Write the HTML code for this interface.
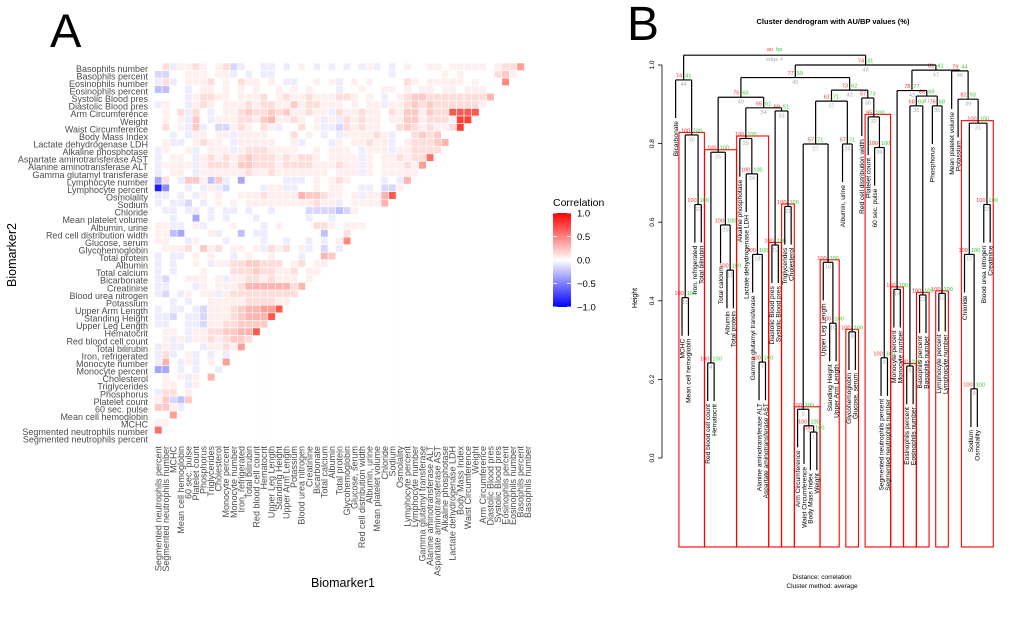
<!DOCTYPE html>
<html><head><meta charset="utf-8">
<style>
html,body{margin:0;padding:0;background:#fff;}
svg{display:block;font-family:"Liberation Sans",Arial,sans-serif;}
</style></head>
<body>
<svg id="fig" width="1020" height="628" viewBox="0 0 1020 628" xmlns="http://www.w3.org/2000/svg">
  <text x="50" y="47" font-size="47" fill="#000">A</text>
  <text x="627" y="40" font-size="48" fill="#000">B</text>
  <g id="heat"></g>
  <g id="hylab"></g>
  <g id="hxlab"></g>
  <text x="343" y="587" font-size="12.5" text-anchor="middle" fill="#000">Biomarker1</text>
  <text transform="translate(16,255) rotate(-90)" font-size="12.5" text-anchor="middle" fill="#000">Biomarker2</text>
  <g>
    <defs><linearGradient id="cg" x1="0" y1="0" x2="0" y2="1">
      <stop offset="0" stop-color="#ff0000"/><stop offset="0.5" stop-color="#ffffff"/><stop offset="1" stop-color="#0000ff"/>
    </linearGradient></defs>
    <text x="553" y="206" font-size="10.5" fill="#000">Correlation</text>
    <rect x="553" y="213" width="18" height="94" fill="url(#cg)"/>
    <g id="legticks"></g>
  </g>
  <text x="833" y="24" font-size="7.5" font-weight="bold" text-anchor="middle" fill="#000">Cluster dendrogram with AU/BP values (%)</text>
  <g id="dendro"></g>
  <text transform="translate(637,298) rotate(-90)" font-size="7" text-anchor="middle" fill="#000">Height</text>
  <text x="822" y="579" font-size="6.5" text-anchor="middle" fill="#000">Distance:  correlation</text>
  <text x="822" y="588" font-size="6.5" text-anchor="middle" fill="#000">Cluster method:  average</text>
</svg>
<script>
const NS = "http://www.w3.org/2000/svg";
// ---------- Heatmap data ----------
const yLabels = ["Basophils number","Basophils percent","Eosinophils number","Eosinophils percent","Systolic Blood pres","Diastolic Blood pres","Arm Circumference","Weight","Waist Circumference","Body Mass Index","Lactate dehydrogenase LDH","Alkaline phosphotase","Aspartate aminotransferase AST","Alanine aminotransferase ALT","Gamma glutamyl transferase","Lymphocyte number","Lymphocyte percent","Osmolality","Sodium","Chloride","Mean platelet volume","Albumin, urine","Red cell distribution width","Glucose, serum","Glycohemoglobin","Total protein","Albumin","Total calcium","Bicarbonate","Creatinine","Blood urea nitrogen","Potassium","Upper Arm Length","Standing Height","Upper Leg Length","Hematocrit","Red blood cell count","Total bilirubin","Iron, refrigerated","Monocyte number","Monocyte percent","Cholesterol","Triglycerides","Phosphorus","Platelet count","60 sec. pulse","Mean cell hemoglobin","MCHC","Segmented neutrophils number","Segmented neutrophils percent"];
// codes: '0'-'9' => 0..0.9, 'X' => 1, 'a'..'i' => -0.1..-0.9
const corrRows = [
"02a1121012 ba00aa0a01 0a0a0a0a1a 0a01001101 111101225",
"bb00111011 a0a0aa0000 0000000000 0a00000010 10000231",
"a2a0111201 0211010aa0 0101a01010 0002101111 1010006",
"cc00a01101 0101001010 1000a00100 1101011011 011100",
"0000a12211 0111201211 2111221010 a012332222 22224",
"a100a12101 1121221131 2211101011 a112323222 2221",
"0102a20a01 1232232311 211a211211 0213313228 888",
"0101a30a11 1221341121 01a1a21211 0113312221 99",
"0201a3a0bb 121021a002 01aab21211 0023212112 9",
"00a0a11011 a111100020 10a0a11112 1a00232300",
"01aa012110 a11111001a 000a101121 1a0122234",
"a1001a0111 a122211110 0101110a11 1a112222",
"a0110a1212 1232221212 2101111a10 1121227",
"a1111a1222 1332221222 2111211a10 111215",
"a0110a1111 1121121111 1110111a10 11111",
"d20a331c3a 0d00000aaa 0101210000 a0a4",
"ie00a0a1ab 0000a11aa0 0101100aa0 bb1",
"aa0a0a1010 0111211114 3321101a11 48",
"a0aab0a010 1011111111 1211a01111 4",
"0aa0aa0a0a a0a00a0000 bbbbcb1000",
"00a00d0a0a 000a000000 a00a00000",
"11aa01a000 1000a01000 02210111",
"11cd0001a0 0c0aa00000 00c0020",
"1100a1000a 0000a00a00 a0a016",
"0111203120 1101a21201 a0b0a",
"a0aa010100 a01001000a 0043",
"a0a0010a11 2233222012 011",
"a0a0001000 2223221120 11",
"ab0011101a 1122121110 1",
"aa000a1011 1244444424",
"ab0a1011a1 222222222",
"00a0a00111 11222211",
"a0aa0ab111 2344558",
"aab0aab111 234448",
"aa00aab112 23333",
"0110a11223 3448",
"01a1a11212 332",
"a1aa00a112 15",
"a2a01a0a0a 0",
"a40a1a0105",
"dd0a0a00a",
"0101a104",
"0110a10",
"a22010",
"13bc3",
"331a",
"005",
"11",
"7"
];
const legendTicks = [1.0, 0.5, 0.0, -0.5, -1.0];
const legendTickText = ["1.0","0.5","0.0","\u22120.5","\u22121.0"];

function decode(c){
  if (c === 'X') return 1;
  if (c >= '0' && c <= '9') return (+c)/10;
  return -((c.charCodeAt(0) - 96))/10;
}
function col(v){
  const t = Math.pow(Math.min(1, Math.abs(v)), 1.15);
  if (v >= 0) {
    const g = Math.round(255 - t*(255-40)), b = Math.round(255 - t*(255-25));
    return `rgb(255,${g},${b})`;
  }
  const k = Math.round(255*(1-t));
  return `rgb(${k},${k},255)`;
}
const HX0 = 154.5, HY0 = 63, CW = 7.55, CH = 7.57, N = 50;
const hx = j => HX0 + j*CW;
const hy = i => HY0 + i*CH;
const heat = document.getElementById('heat');
for (let j = 0; j < N; j++) {
  const l = document.createElementNS(NS,'line');
  
  
  l.setAttribute('x1',hx(j)+CW/2); l.setAttribute('x2',hx(j)+CW/2);
  l.setAttribute('y1',HY0); l.setAttribute('y2',hy(N));
  l.setAttribute('stroke','#ececec'); l.setAttribute('stroke-width','0.4'); l.setAttribute('stroke-dasharray','1,3');
  heat.appendChild(l);
}
corrRows.forEach((row, i) => {
  const s = row.replace(/ /g,'');
  const maxc = N - 1 - i;
  for (let j = 0; j < Math.min(s.length, maxc); j++) {
    const v = decode(s[j]);
    const r = document.createElementNS(NS,'rect');
    
    
    r.setAttribute('x', hx(j)); r.setAttribute('y', hy(i));
    r.setAttribute('width', CW); r.setAttribute('height', CH);
    r.setAttribute('fill', col(v)); r.setAttribute('stroke','#fff'); r.setAttribute('stroke-width','0.6');
    heat.appendChild(r);
  }
});
const hylab = document.getElementById('hylab');
yLabels.forEach((lab, i) => {
  const t = document.createElementNS(NS,'text');
  
  
  t.setAttribute('x', 148); t.setAttribute('y', hy(i) + CH/2 + 5);
  t.setAttribute('text-anchor','end'); t.setAttribute('font-size','9'); t.setAttribute('fill','#4d4d4d');
  t.textContent = lab; hylab.appendChild(t);
});
const hxlab = document.getElementById('hxlab');
for (let j = 0; j < N; j++) {
  const lab = yLabels[N-1-j];
  const t = document.createElementNS(NS,'text');
  
  
  const x = hx(j) + CW/2 + 3;
  t.setAttribute('transform',`translate(${x},446) rotate(-90)`);
  t.setAttribute('text-anchor','end'); t.setAttribute('font-size','9'); t.setAttribute('fill','#4d4d4d');
  t.textContent = lab; hxlab.appendChild(t);
}
const lg = document.getElementById('legticks');
legendTicks.forEach((v, k) => {
  const y = 213 + (1 - v)/2*94;
  const tk = document.createElementNS(NS,'line');
  
  
  tk.setAttribute('x1',553); tk.setAttribute('x2',557); tk.setAttribute('y1',y); tk.setAttribute('y2',y);
  tk.setAttribute('stroke','#fff'); tk.setAttribute('stroke-width','0.8'); lg.appendChild(tk);
  const tk2 = tk.cloneNode(); tk2.setAttribute('x1',567); tk2.setAttribute('x2',571);
   lg.appendChild(tk2);
  const t = document.createElementNS(NS,'text');
  
  
  t.setAttribute('x',577); t.setAttribute('y',y+3.5); t.setAttribute('font-size','9.5'); t.setAttribute('fill','#000');
  t.textContent = legendTickText[k]; lg.appendChild(t);
});

// ---------- Dendrogram data ----------
const leafLabels = ["Bicarbonate","MCHC","Mean cell hemoglobin","Iron, refrigerated","Total bilirubin","Red blood cell count","Hematocrit","Total calcium","Albumin","Total protein","Alkaline phosphotase","Lactate dehydrogenase LDH","Gamma glutamyl transferase","Alanine aminotransferase ALT","Aspartate aminotransferase AST","Diastolic Blood pres","Systolic Blood pres","Triglycerides","Cholesterol","Arm Circumference","Waist Circumference","Body Mass Index","Weight","Upper Leg Length","Standing Height","Upper Arm Length","Albumin, urine","Glycohemoglobin","Glucose, serum","Red cell distribution width","Platelet count","60 sec. pulse","Segmented neutrophils percent","Segmented neutrophils number","Monocyte percent","Monocyte number","Eosinophils percent","Eosinophils number","Basophils percent","Basophils number","Phosphorus","Lymphocyte percent","Lymphocyte number","Mean platelet volume","Potassium","Chloride","Sodium","Osmolality","Blood urea nitrogen","Creatinine"];
const mergeLeft  = [-22,-21,-20,-6,-37,-33,-14,-47,-28,-25,-9,-39,-42,-35,-2,-24,-46,-13,-16,-8,-18,-4,-49,-12,4,-32,3,-27,-11,15,17,-31,19,29,5,-41,27,-30,-45,25,35,37,14,-1,40,-44,43,45,44];
const mergeRight = [-23,1,2,-7,-38,-34,-15,-48,-29,-26,-10,-40,-43,-36,-3,10,8,7,-17,11,-19,-5,-50,18,20,6,16,9,24,22,23,26,21,33,12,13,28,32,31,34,36,38,41,30,42,39,46,47,48];
const mergeHeight = [0.066,0.082,0.124,0.242,0.234,0.255,0.244,0.176,0.321,0.343,0.478,0.415,0.419,0.429,0.408,0.498,0.518,0.518,0.542,0.593,0.640,0.645,0.645,0.723,0.778,0.790,0.799,0.799,0.813,0.822,0.852,0.868,0.883,0.891,0.896,0.896,0.908,0.916,0.913,0.918,0.921,0.936,0.935,0.962,0.968,0.985,0.987,1.000,1.025];
const auValues = [100,100,100,100,100,100,100,100,100,100,100,100,100,100,100,100,100,100,100,100,100,100,100,100,100,100,57,57,100,100,100,95,69,65,68,76,61,57,82,75,68,73,78,74,77,79,81,74,null];
const bpValues = [100,100,100,100,100,100,100,100,100,100,100,100,100,100,100,100,100,100,100,100,100,100,100,100,100,100,71,71,100,100,100,100,51,61,83,68,71,73,93,60,69,62,77,41,59,44,41,41,null];
const clusterNodes = [30,25,29,19,21,3,16,9,32,14,5,12,13,31];
const dTicks = [0.0,0.2,0.4,0.6,0.8,1.0];

const yD = h => 458 - h*393;
const xL = k => 675.6 + (k-1)*6.42;
const HANG = 0.097;
const dg = document.getElementById('dendro');
function mk(tag, attrs){
  const e = document.createElementNS(NS, tag);
  for (const k in attrs) e.setAttribute(k, attrs[k]);
  dg.appendChild(e); return e;
}
const ax = mk('line',{x1:662,x2:662,y1:yD(0),y2:yD(1),stroke:'#000','stroke-width':0.8});


dTicks.forEach(v => {
  const t = mk('line',{x1:658,x2:662,y1:yD(v),y2:yD(v),stroke:'#000','stroke-width':0.8});
  
  
  const tx = mk('text',{transform:`translate(654,${yD(v)}) rotate(-90)`,'text-anchor':'middle','font-size':6.5,fill:'#000'});
  
  
  tx.textContent = v.toFixed(1);
});
const nodeX = [], leafMin = [], leafMax = [];
function info(ref){
  if (ref < 0) return {x: xL(-ref), h: null, lo: -ref, hi: -ref};
  return {x: nodeX[ref-1], h: mergeHeight[ref-1], lo: leafMin[ref-1], hi: leafMax[ref-1]};
}
for (let n = 0; n < mergeHeight.length; n++) {
  const a = info(mergeLeft[n]), b = info(mergeRight[n]);
  nodeX[n] = (a.x + b.x)/2;
  leafMin[n] = Math.min(a.lo, b.lo); leafMax[n] = Math.max(a.hi, b.hi);
}
clusterNodes.forEach(id => {
  const n = id-1;
  const r = mk('rect',{x:xL(leafMin[n])-3.1, y:yD(mergeHeight[n])-2.5, width:xL(leafMax[n])-xL(leafMin[n])+6.2, height:547-(yD(mergeHeight[n])-2.5), fill:'none', stroke:'#ff0000','stroke-width':1.1});
  
  
});
for (let n = 0; n < mergeHeight.length; n++) {
  const H = mergeHeight[n], yN = yD(H);
  [mergeLeft[n], mergeRight[n]].forEach(ref => {
    const c = info(ref);
    const yc = ref < 0 ? yD(H - HANG) : yD(c.h);
    const v = mk('line',{x1:c.x,x2:c.x,y1:yc,y2:yN,stroke:'#000','stroke-width':1.2});
    
    
    if (ref < 0) {
      const t = mk('text',{transform:`translate(${c.x+2.3},${yc+3}) rotate(-90)`,'text-anchor':'end','font-size':6.6,fill:'#000'});
      
      
      t.textContent = leafLabels[-ref-1];
    }
  });
  const a = info(mergeLeft[n]), b = info(mergeRight[n]);
  const hb = mk('line',{x1:a.x,x2:b.x,y1:yN,y2:yN,stroke:'#000','stroke-width':1.2});
  
  
  if (auValues[n] !== null) {
    const au = mk('text',{x:nodeX[n]-1.5,y:yN-2.5,'text-anchor':'end','font-size':5.6,fill:'#ff3333'});
    
    
    au.textContent = auValues[n];
    const bp = mk('text',{x:nodeX[n]+1.5,y:yN-2.5,'font-size':5.6,fill:'#33cc33'});
    
    
    bp.textContent = bpValues[n];
    const ed = mk('text',{x:nodeX[n],y:yN+6.3,'text-anchor':'middle','font-size':5.6,fill:'#aaaaaa'});
    
    
    ed.textContent = n+1;
  } else {
    const au = mk('text',{x:nodeX[n]-1.5,y:yN-4,'text-anchor':'end','font-size':5.6,fill:'#ff3333'});
    
    
    au.textContent = 'au';
    const bp = mk('text',{x:nodeX[n]+1.5,y:yN-4,'font-size':5.6,fill:'#33cc33'});
    
    
    bp.textContent = 'bp';
    const ed = mk('text',{x:nodeX[n],y:yN+6,'text-anchor':'middle','font-size':5.6,fill:'#aaaaaa'});
    
    
    ed.textContent = 'edge #';
  }
}
</script>
</body></html>
